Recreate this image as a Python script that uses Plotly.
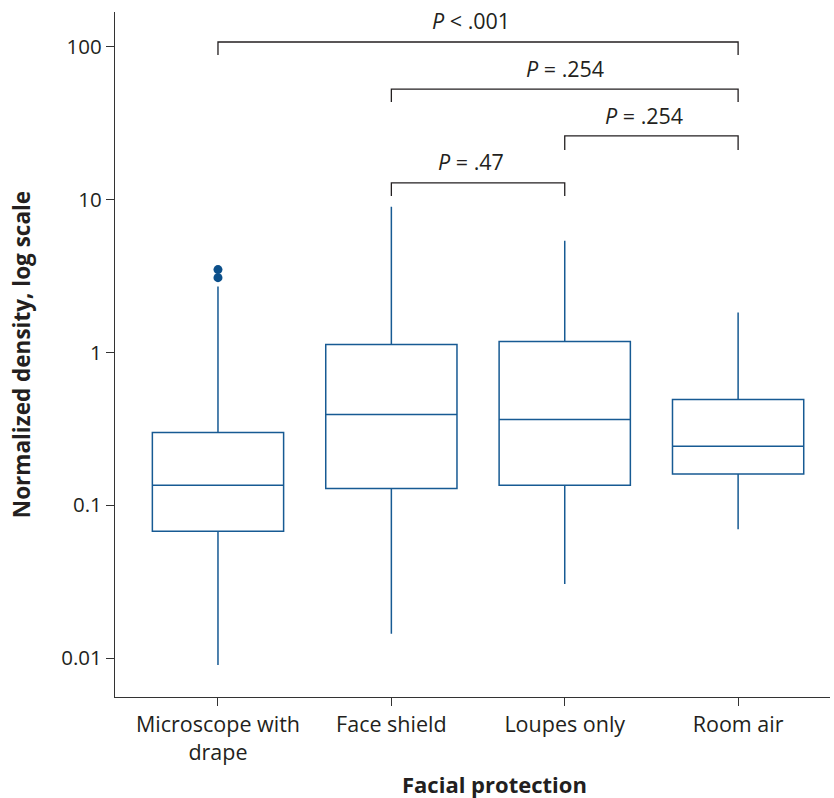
import math
import plotly.graph_objects as go

categories = ["Microscope with<br>drape", "Face shield", "Loupes only", "Room air"]
lower_whisker = [0.0090, 0.0144, 0.0305, 0.0696]
q1_vals = [0.0676, 0.129, 0.135, 0.160]
median_vals = [0.135, 0.393, 0.365, 0.243]
q3_vals = [0.300, 1.13, 1.18, 0.493]
upper_whisker = [2.70, 9.0, 5.4, 1.83]
outlier_cat = [categories[0], categories[0]]
outlier_vals = [3.09, 3.49]

# significance brackets: (left category idx, right category idx, bar level, tick-end level, label, label level)
brackets = [
    (0, 3, 107.8, 88.7, "<i>P</i> < .001", 150.0),
    (1, 3, 53.0, 43.7, "<i>P</i> = .254", 71.8),
    (2, 3, 26.2, 21.2, "<i>P</i> = .254", 35.4),
    (1, 2, 12.9, 10.6, "<i>P</i> = .47", 17.7),
]
label_shift = [-7, 0, -7, -7]

y_tickvals = [0.01, 0.1, 1, 10, 100]
y_ticktext = ["0.01", "0.1", "1", "10", "100"]

BLUE = "#175a93"
INK = "#231f20"
FONT = "Open Sans"

fig = go.Figure()
fig.add_trace(go.Box(
    x=categories,
    q1=q1_vals, median=median_vals, q3=q3_vals,
    lowerfence=lower_whisker, upperfence=upper_whisker,
    boxpoints=False, whiskerwidth=0,
    fillcolor="white",
    line=dict(color=BLUE, width=1.5),
    showlegend=False,
))
fig.add_trace(go.Scatter(
    x=outlier_cat, y=outlier_vals, mode="markers",
    marker=dict(color="#0b4f8a", size=9),
    showlegend=False,
))

for (i0, i1, top, bot, label, ly), dx in zip(brackets, label_shift):
    fig.add_trace(go.Scatter(
        x=[categories[i0], categories[i0], categories[i1], categories[i1]],
        y=[bot, top, top, bot],
        mode="lines", line=dict(color=INK, width=1.3),
        showlegend=False, hoverinfo="skip",
    ))
    fig.add_annotation(
        x=(i0 + i1) / 2, y=math.log10(ly), xref="x", yref="y",
        text=label, showarrow=False, xshift=dx,
        font=dict(family=FONT, size=21.5, color=INK),
    )

fig.add_annotation(
    x=0.531, y=-0.127, xref="paper", yref="paper",
    xanchor="center", yanchor="middle",
    text="<b>Facial protection</b>", showarrow=False,
    font=dict(family=FONT, size=22, color=INK),
)

fig.update_layout(
    width=834, height=798,
    margin=dict(l=115, r=4, t=12, b=101),
    plot_bgcolor="white", paper_bgcolor="white",
    boxgap=0.243, boxgroupgap=0,
    font=dict(family=FONT, size=21, color=INK),
)
fig.update_xaxes(
    type="category", categoryorder="array", categoryarray=categories,
    range=[-0.594, 3.53],
    showline=True, linecolor="#333333", linewidth=1.3,
    ticks="outside", ticklen=8, tickcolor="#333333", tickwidth=1.3,
    showgrid=False, zeroline=False,
    tickfont=dict(family=FONT, size=21.5, color=INK),
)
fig.update_yaxes(
    type="log", range=[-2.255, 2.229],
    tickvals=y_tickvals, ticktext=y_ticktext,
    showline=True, linecolor="#333333", linewidth=1.3,
    ticks="outside", ticklen=8, tickcolor="#333333", tickwidth=1.3,
    showgrid=False, zeroline=False,
    tickfont=dict(family=FONT, size=20.5, color=INK),
    title=dict(text="<b>Normalized density, log scale</b>", font=dict(family=FONT, size=22.5, color=INK), standoff=24),
)

fig.write_html("out.html")
